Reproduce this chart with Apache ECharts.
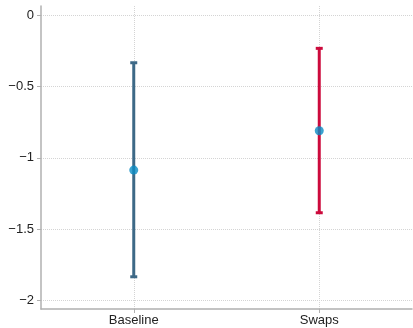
<!DOCTYPE html>
<html><head><meta charset="utf-8">
<script src="https://cdn.jsdelivr.net/npm/echarts@6/dist/echarts.min.js"></script>
<style>html,body{margin:0;padding:0;background:#fff}#c{width:413px;height:328px}</style>
</head><body><div id="c"></div>
<script>
const categories = ['Baseline', 'Swaps'];
const means = [-1.086, -0.81];
const lower = [-1.834, -1.385];
const upper = [-0.333, -0.232];
const yTicks = [0, -0.5, -1, -1.5, -2];
const barColors = ['#3d6987', '#cc0a3c'];

const chart = echarts.init(document.getElementById('c'), null, {renderer: 'canvas'});
const fmt = v => String(v).replace('-', '\u2212');
const font = {fontFamily: 'Liberation Sans, Arial, sans-serif', fontSize: 13, color: '#222'};
chart.setOption({
  animation: false,
  grid: {left: 41, right: 1, top: 6, bottom: 19},
  xAxis: {
    type: 'value', min: -0.5, max: 1.5,
    axisLine: {show: true, onZero: false, lineStyle: {color: '#b0b0b0', width: 1.5}},
    axisTick: {show: true, customValues: [0, 1], length: 4, lineStyle: {color: '#b0b0b0'}},
    axisLabel: Object.assign({customValues: [0, 1], margin: 5, formatter: v => categories[Math.round(v)]}, font),
    splitLine: {show: true, lineStyle: {color: '#d4d4d4', type: 'dotted', width: 1}}
  },
  yAxis: {
    type: 'value', min: -2.06, max: 0.065,
    axisLine: {show: true, onZero: false, lineStyle: {color: '#b0b0b0', width: 1.5}},
    axisTick: {show: true, customValues: yTicks, length: 4, lineStyle: {color: '#b0b0b0'}},
    axisLabel: Object.assign({customValues: yTicks, margin: 7, formatter: fmt}, font),
    splitLine: {show: true, lineStyle: {color: '#d4d4d4', type: 'dotted', width: 1}}
  },
  series: [
    {
      type: 'custom',
      data: categories.map((c, i) => [i, lower[i], upper[i]]),
      renderItem: function (params, api) {
        const i = api.value(0);
        const lo = api.coord([i, api.value(1)]);
        const hi = api.coord([i, api.value(2)]);
        const col = barColors[params.dataIndex];
        const st = {stroke: col, lineWidth: 3};
        return {type: 'group', children: [
          {type: 'line', shape: {x1: lo[0], y1: lo[1], x2: hi[0], y2: hi[1]}, style: st},
          {type: 'line', shape: {x1: lo[0] - 3.5, y1: lo[1], x2: lo[0] + 3.5, y2: lo[1]}, style: st},
          {type: 'line', shape: {x1: hi[0] - 3.5, y1: hi[1], x2: hi[0] + 3.5, y2: hi[1]}, style: st}
        ]};
      },
      z: 2
    },
    {
      type: 'scatter',
      data: categories.map((c, i) => [i, means[i]]),
      symbolSize: 9,
      itemStyle: {color: '#0a8cc4'},
      z: 3
    }
  ]
});
</script></body></html>
